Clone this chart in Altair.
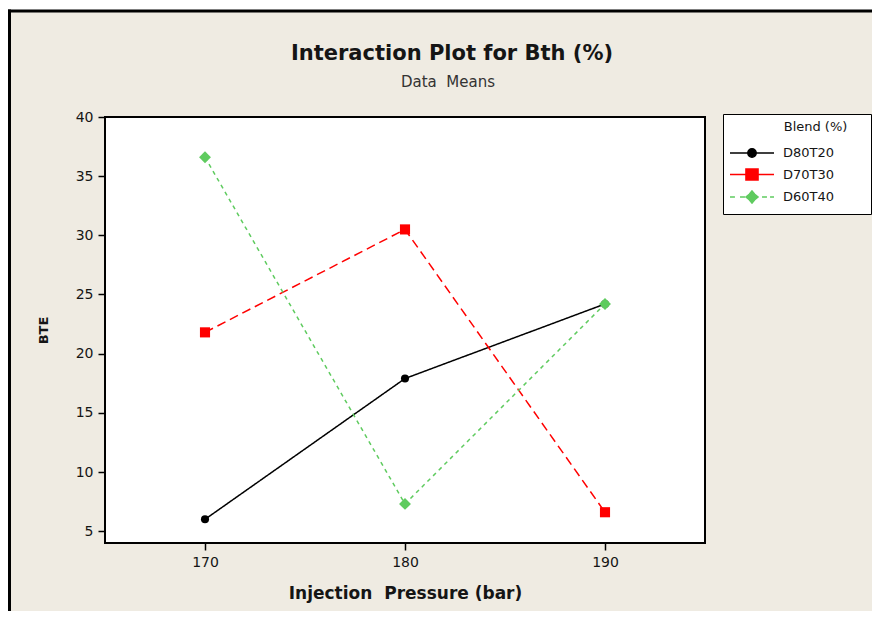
import altair as alt
import pandas as pd

# ---- data ----
pressure = [170, 180, 190]
blends = ["D80T20", "D70T30", "D60T40"]
bte_d80t20 = [6.0, 17.9, 24.2]
bte_d70t30 = [21.8, 30.5, 6.6]
bte_d60t40 = [36.6, 7.3, 24.2]
y_ticks = [5, 10, 15, 20, 25, 30, 35, 40]
colors = ["#000000", "#FF0000", "#5FCB5F"]

rows = []
for b, vals in zip(blends, [bte_d80t20, bte_d70t30, bte_d60t40]):
    for p, v in zip(pressure, vals):
        rows.append({"Pressure": p, "BTE": v, "Blend": b})
df = pd.DataFrame(rows)

FONT = "DejaVu Sans"
TXT = "#151515"
BG = "#EFEBE2"
NB = "\u00a0"
ZW = "\u200b"

x_scale = alt.Scale(domain=[165, 195], nice=False, zero=False)
y_scale = alt.Scale(domain=[4, 40], nice=False, zero=False)

x_axis = alt.Axis(
    values=pressure, format="d", domain=False, grid=False,
    tickSize=7, tickWidth=1.5, tickColor="black",
    labelPadding=5, labelFont=FONT, labelFontSize=14, labelColor=TXT,
    title="Injection" + NB + " Pressure (bar)", titleFont=FONT, titleFontSize=17,
    titleFontWeight="bold", titleColor=TXT, titleBaseline="alphabetic", titleY=55,
)
y_axis = alt.Axis(
    values=y_ticks, format="d", domain=False, grid=False,
    tickSize=7, tickWidth=1.5, tickColor="black",
    labelPadding=5, labelFont=FONT, labelFontSize=14, labelColor=TXT,
    title="BTE", titleFont=FONT, titleFontSize=13, titleFontWeight="bold",
    titleColor=TXT, titleAngle=270, titleBaseline="alphabetic", titleX=-58, titleY=213,
)

base = alt.Chart(df).encode(
    x=alt.X("Pressure:Q", scale=x_scale, axis=x_axis),
    y=alt.Y("BTE:Q", scale=y_scale, axis=y_axis),
)

color_enc = alt.Color("Blend:N", scale=alt.Scale(domain=blends, range=colors), legend=None)

lines = base.mark_line(strokeWidth=1.5).encode(
    color=color_enc,
    strokeDash=alt.StrokeDash(
        "Blend:N", scale=alt.Scale(domain=blends, range=[[1, 0], [9, 5], [4, 4]]), legend=None
    ),
)

star = "M0,-1L0.5,-0.5L1,0L0.5,0.5L0,1L-0.5,0.5L-1,0L-0.5,-0.5Z"
points = base.mark_point(filled=True, opacity=1).encode(
    color=color_enc,
    shape=alt.Shape("Blend:N", scale=alt.Scale(domain=blends, range=["circle", "square", star]), legend=None),
    size=alt.Size("Blend:N", scale=alt.Scale(domain=blends, range=[65, 140, 150]), legend=None),
)

# legend symbols: line + marker drawn as one custom path (unit = 11 px)
leg_paths = [
    "M-2,0H2M-0.38,0A0.38,0.38,0,1,0,0.38,0A0.38,0.38,0,1,0,-0.38,0Z",
    "M-2,0H2M-0.55,-0.5H0.55V0.5H-0.55Z",
    "M-2,0H-1.55M-1.09,0H-0.64M0.91,0H1.36M1.64,0H2"
    "M0,-0.55L0.25,-0.25L0.55,0L0.25,0.25L0,0.55L-0.25,0.25L-0.55,0L-0.25,-0.25Z",
]
leg = alt.Legend(
    title=ZW + NB * 13 + "Blend (%)" + NB * 4 + ZW,
    orient="none", legendX=618, legendY=-3, direction="vertical",
    strokeColor="black", fillColor="white", padding=7, cornerRadius=0,
    symbolSize=484, symbolStrokeWidth=1.5, symbolOffset=10,
    labelOffset=19, rowPadding=1.5, titlePadding=7,
    labelFont=FONT, labelFontSize=13, labelColor=TXT, labelBaseline="middle",
    titleFont=FONT, titleFontSize=13, titleFontWeight="normal", titleColor=TXT,
    titleBaseline="top",
)
legend_layer = alt.Chart(df).transform_filter("false").mark_point(
    filled=True, strokeWidth=1.5, opacity=1
).encode(
    x=alt.X("Pressure:Q", scale=x_scale, axis=x_axis),
    y=alt.Y("BTE:Q", scale=y_scale, axis=y_axis),
    fill=alt.Fill("Blend:N", scale=alt.Scale(domain=blends, range=colors), legend=leg),
    stroke=alt.Stroke("Blend:N", scale=alt.Scale(domain=blends, range=colors), legend=leg),
    shape=alt.Shape("Blend:N", scale=alt.Scale(domain=blends, range=leg_paths), legend=leg),
)

# titles
title_df = pd.DataFrame({"t": ["Interaction Plot for Bth (%)"]})
sub_df = pd.DataFrame({"t": ["Data" + NB + " Means"]})
title_mark = alt.Chart(title_df).mark_text(
    font=FONT, fontSize=21, fontWeight="bold", align="center", baseline="alphabetic", color=TXT
).encode(text="t:N", x=alt.value(347), y=alt.value(-57))
sub_mark = alt.Chart(sub_df).mark_text(
    font=FONT, fontSize=15, align="center", baseline="alphabetic", color="#333333"
).encode(text="t:N", x=alt.value(343), y=alt.value(-30))

# outer frame (top and left edges)
one = pd.DataFrame({"k": [0]})
white_strip = alt.Chart(one).mark_rule(color="white", strokeWidth=2).encode(
    x=alt.value(-97), x2=alt.value(767), y=alt.value(-108)
)
top_edge = alt.Chart(one).mark_rule(color="black", strokeWidth=3).encode(
    x=alt.value(-97), x2=alt.value(767), y=alt.value(-106)
)
left_edge = alt.Chart(one).mark_rule(color="black", strokeWidth=3).encode(
    x=alt.value(-95.5), y=alt.value(-107.5), y2=alt.value(494)
)

chart = (
    alt.layer(white_strip, top_edge, left_edge, lines, points, legend_layer, title_mark, sub_mark)
    .resolve_scale(shape="independent", fill="independent", stroke="independent")
    .properties(
        width=600, height=426,
        padding={"left": 97, "top": 109, "right": 167, "bottom": 68},
        autosize=alt.AutoSizeParams(type="none"),
        background=BG,
    )
    .configure_view(stroke="black", strokeWidth=2, fill="white")
)

chart.save("out.html", embed_options={"renderer": "svg", "actions": False})
